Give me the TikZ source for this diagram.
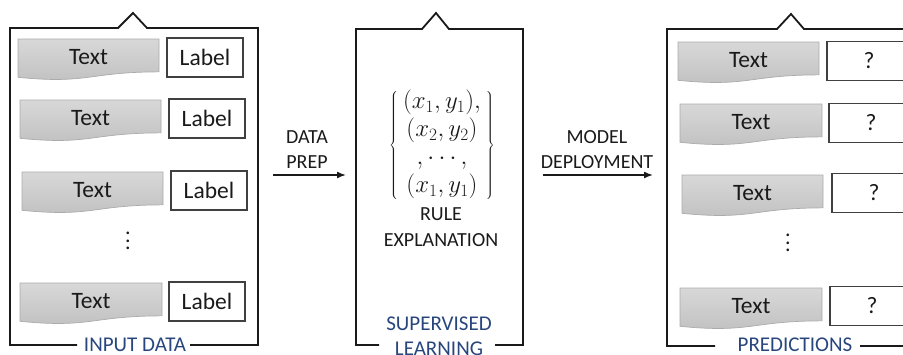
\documentclass[tikz,border=0pt]{standalone}
\usepackage{fontspec}
\setmainfont{Carlito}
\usetikzlibrary{arrows.meta}

\definecolor{ink}{HTML}{1A1A1A}
\definecolor{capblue}{RGB}{40,70,125}
\definecolor{boxedge}{HTML}{404040}
\definecolor{docedge}{HTML}{ABABAB}
\definecolor{doctop}{HTML}{D8D8D8}
\definecolor{docbot}{HTML}{C0C0C0}

\tikzset{
  frame/.style={draw=ink, line width=1.8pt, line join=miter},
  doctext/.style={text=ink, inner sep=0pt, font=\fontsize{23.5}{28}\selectfont},
  tagbox/.style={draw=boxedge, line width=1.3pt, fill=white, text=ink,
    minimum width=76pt, minimum height=39pt, inner sep=0pt,
    font=\fontsize{23.5}{28}\selectfont},
  qbox/.style={tagbox, minimum width=84pt},
  caption/.style={text=capblue, align=center, inner sep=0pt,
    font=\fontsize{21}{25}\selectfont},
  steplabel/.style={text=ink, align=center, inner sep=0pt,
    font=\fontsize{20}{25}\selectfont},
  flow/.style={draw=ink, line width=1.5pt, -{Latex[length=9pt,width=7pt]}},
  dotsnode/.style={text=ink, inner sep=0pt, align=center,
    font=\fontsize{22}{7.5}\selectfont},
}

% gray "document" shape with a wavy bottom edge; #1 name, #2 left, #3 top, #4 width, #5 height
\newcommand\docnode[5]{%
  \shadedraw[top color=doctop, bottom color=docbot, draw=docedge, line width=0.7pt]
    (#2,#3) -- (#2+#4,#3) -- (#2+#4,#3+0.802*#5)
    .. controls (#2+0.5*#4,#3+0.802*#5) and (#2+0.5*#4,#3+1.107*#5) .. (#2,#3+0.934*#5) -- cycle;
  \node[doctext] (#1) at (#2+0.5*#4,#3+0.44*#5) {Text};}

\begin{document}
\begin{tikzpicture}[x=1pt, y=-1pt]
  \useasboundingbox (0,0) rectangle (903,354);
  \clip (0,0) rectangle (903,354);

  % ---------- input data panel ----------
  \draw[frame] (77,345) -- (10,345) -- (10,28) -- (118,28) -- (133,13) -- (147,28)
    -- (258,28) -- (258,345) -- (190,345);
  \node[caption] (inlab) at (135,345) {INPUT DATA};

  \docnode{in1}{18}{39}{141}{41}
  \docnode{in2}{20}{100}{141}{41}
  \docnode{in3}{22}{172}{141}{41}
  \docnode{in4}{20}{283}{142}{41}
  \node[tagbox] (lab1) at (205,57.5) {Label};
  \node[tagbox] (lab2) at (207,118.5) {Label};
  \node[tagbox] (lab3) at (209,190.5) {Label};
  \node[tagbox] (lab4) at (207,301.5) {Label};
  \node[dotsnode] (indots) at (128,241) {.\\.\\.};

  % ---------- supervised learning panel ----------
  \draw[frame] (379,345) -- (356,345) -- (356,29) -- (422,29) -- (436,13) -- (449,29)
    -- (523,29) -- (523,345) -- (495,345);
  \node[caption] (suplab) at (439,336.5) {SUPERVISED\\LEARNING};
  \node[text=ink, inner sep=0pt, font=\fontsize{24}{28}\selectfont] (pairs) at (442,145)
    {$\left\{\begin{array}{c}(x_1,y_1),\\(x_2,y_2)\\,\cdots,\\(x_1,y_1)\end{array}\right\}$};
  \node[steplabel, font=\fontsize{20}{26}\selectfont] (rule) at (441,227) {RULE\\EXPLANATION};

  % ---------- predictions panel ----------
  \draw[frame] (715,346) -- (667,346) -- (667,29) -- (777,29) -- (791,14) -- (804,29)
    -- (920,29) -- (920,346) -- (860,346);
  \node[caption] (predlab) at (795,345) {PREDICTIONS};

  \docnode{out1}{678}{42}{141}{41}
  \docnode{out2}{680}{104}{142}{41}
  \docnode{out3}{682}{175}{141}{41}
  \docnode{out4}{680}{288}{142}{41}
  \node[qbox] (q1) at (869,61) {?};
  \node[qbox] (q2) at (871,123) {?};
  \node[qbox] (q3) at (874,193) {?};
  \node[qbox] (q4) at (872,306) {?};
  \node[dotsnode] (outdots) at (788,243) {.\\.\\.};

  % ---------- steps between the panels ----------
  \coordinate (prepA) at (273,175);
  \coordinate (prepB) at (346,175);
  \draw[flow] (prepA) -- (prepB);
  \node[steplabel] (prep) at (307,150) {DATA\\PREP};

  \coordinate (deployA) at (543,175);
  \coordinate (deployB) at (653,175);
  \draw[flow] (deployA) -- (deployB);
  \node[steplabel] (deploy) at (597,150) {MODEL\\DEPLOYMENT};
\end{tikzpicture}
\end{document}
